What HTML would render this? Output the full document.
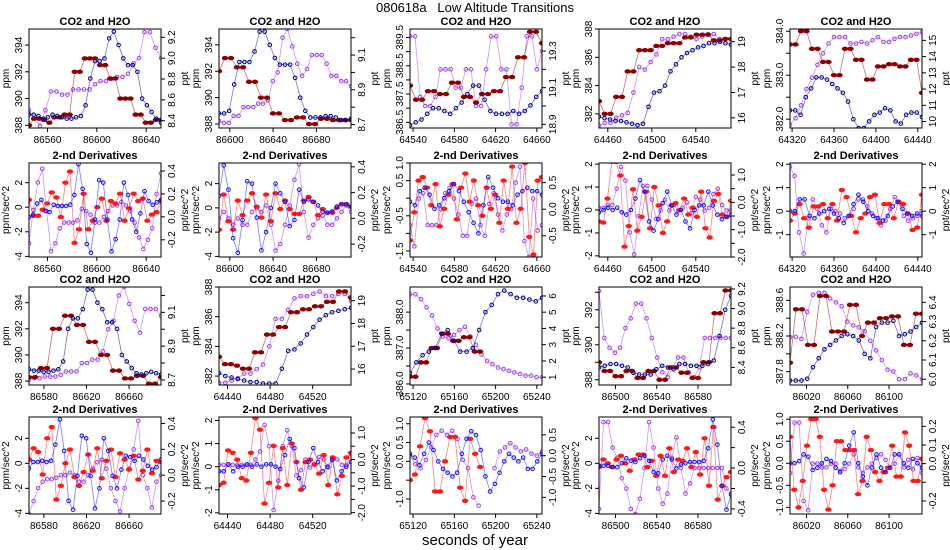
<!DOCTYPE html>
<html><head><meta charset="utf-8"><style>
body{margin:0;background:#fff;}
svg{display:block;font-family:"Liberation Sans",Arial,sans-serif;}
</style></head><body>
<svg id="chart" width="950" height="550" viewBox="0 0 950 550">
<text x="475" y="12" text-anchor="middle" font-size="13" style="white-space:pre">080618a   Low Altitude Transitions</text>
<text x="475" y="545" text-anchor="middle" font-size="15">seconds of year</text>
</svg>
<script>
// ---- chart data (per panel small arrays) ----
const p11_x=[86545,86652], p11_xt=[86560,86600,86640];
const p11_co2=[388.8,388.8,388.7,388.5,388.6,388.8,388.7,388.6,388.5,388.5,388.6,388.7,389.5,391.5,392.8,392.8,393,394.5,395,394,393,392.5,392.5,392,390,389.5,389,388.5,388.2];
const p11_step=[388,388.5,388.5,388.4,388.2,388.6,388.6,388.8,388.8,392,392,393,393,393,392.5,392.5,391.5,391.5,390,390,390,388.8,388.8,388.2,388.2,388.4,388.4];
const p11_h2o=[8.5,8.42,8.35,8.5,8.68,8.68,8.65,8.65,8.7,8.7,8.7,8.7,8.75,8.78,8.78,8.8,8.82,8.82,8.85,8.95,9.0,9.25,9.25,9.1,9.0];
const p12_x=[86590,86712], p12_xt=[86600,86640,86680];
const p12_co2=[388.8,388.8,389,391,392.7,392.7,392.7,393.5,395,395,394,393,392.5,392.5,392.5,391.5,390,389,388.5,388.5,388.5,388.6,388.6,388.5,388.3,388.3,388.4];
const p12_step=[392,393,393,392.3,392.3,391.2,391.2,390,390,388.8,388.8,388.3,388.3,388.5,388.5,388,388,388.4,388.4,388.3,388.3,388.3,388.3];
const p12_h2o=[8.72,8.71,8.71,8.75,8.75,8.8,8.8,8.8,8.82,8.82,8.84,8.95,9.0,9.2,9.25,9.15,9.05,8.98,9.02,9.1,9.1,9.1,9.05,8.98,8.98,8.95,8.95,8.92];
const p13_x=[64537,64665], p13_xt=[64540,64580,64620,64660];
const p13_co2=[386.4,386.5,386.6,386.8,387,387,386.9,386.8,387,387.2,387.5,387.8,387.8,387.3,386.9,386.8,386.8,386.8,386.9,386.8,386.9,387.1,387.4,387.6];
const p13_step=[387.8,387.3,387.3,387.6,387.6,387.5,387.5,387.9,387.9,387.4,387.4,387.2,387.5,387.5,387.6,387.6,388.1,388.1,388.8,388.8,389.7,389.7,389.3];
const p13_h2o=[19.38,19.38,19.05,19.0,19.0,19.05,19.2,19.2,19.2,19.1,19.1,19.2,19.2,19.0,19.0,19.2,19.38,19.38,19.2,19.2,18.9,18.9,19.1,19.38,19.38,19.2,19.3];
const p14_x=[64452,64572], p14_xt=[64460,64500,64540];
const p14_co2=[381.8,381.7,381.6,381.5,381.5,381.4,381.3,381.2,381.3,382.5,383.5,383.6,384,385,385.5,386,386.3,386.5,386.7,386.8,387,387,387.1,387,386.9];
const p14_step=[382.9,382,382,383.2,383.2,385,385,386.5,386.5,386.5,386.8,386.8,387,387,387,387.4,387.4,387.6,387.6,387.6,387.2,387.2,387.3,387.3];
const p14_h2o=[15.7,15.8,15.8,16.0,16.1,16.2,17.0,18.0,17.9,18.2,18.5,19.1,19.1,19.2,19.3,19.3,19.2,19.1,19.2,19.3,19.3,19.1,19.1,19.1];
const p15_x=[64318,64444], p15_xt=[64320,64360,64400,64440];
const p15_co2=[382.2,382.2,382.1,382.5,382.7,382.95,382.95,382.9,382.8,382.7,382.6,382.4,382,381.8,381.8,381.95,382.1,382.15,382.25,382.2,381.95,381.9,382.1,382.15,382.15,382.05];
const p15_step=[383.7,383.7,384,384,383.6,383.6,383.3,383.3,383,383,383.6,383.6,383.35,383.35,382.9,382.9,383.2,383.2,383.25,383.25,383.2,383.2,383.35,383.35,382.6];
const p15_h2o=[9.8,10.2,11,12,12.7,13.5,14.2,14.8,15.2,15.2,15.2,14.8,14.8,14.9,14.8,15.0,15.2,14.9,14.9,15.1,15.2,15.2,15.3,15.4,15.5];

const p21_red=[0.6,-0.7,-0.7,-0.2,0.3,1.2,0.8,-0.8,2,2.9,-2.9,-1.8,1.1,-1.8,-1.1,0,0.7,-1.1,0.5,0.3,1.1,-1.1,-0.1,1.1,0.5,0.7,-1.1,-0.6,-0.4,0.5];
const p21_blue=[-0.8,-0.6,0.3,0.6,-0.3,-0.4,0.2,0.1,0.1,0.1,0.2,1,3.5,1.5,-3,-3.7,-1,2.2,2,-1,-3.6,-2.6,-1,2,1,-1,-2,-0.5,1.3,0.5,0.2,0.4,0.6];
const p21_purple=[-0.23,0.06,0.3,0.42,0.05,-0.3,-0.23,-0.1,-0.05,-0.05,-0.05,-0.03,0.07,0.05,0.02,-0.05,-0.05,0.0,0.05,0.1,0.1,0.13,0.1,0.05,-0.05,-0.18,-0.28,-0.2,-0.1,0.2,0.38];
const p22_red=[-1.8,1.1,-1.1,-1.8,0.6,-0.6,0.6,1.2,0.1,-0.8,1.1,-1.1,1.2,-0.1,0.6,-0.1,-0.5,-0.5,0.6,0.9,0.5,-0.6,-0.1,-0.4,-0.4,0,0.3,0.3,0.1];
const p22_blue=[1,3.5,1.5,-2.5,-3.7,-1,2.2,2,-0.8,-3.5,-2,0,2,1.2,0.5,-1.5,-1,1.5,0.5,0.7,0.5,0.2,-0.3,-0.4,-0.3,0.1,0.3,0.3,0.1];
const p22_purple=[0.0,0.05,0.0,-0.05,0.0,-0.05,-0.05,0.05,0.08,0.05,0.1,-0.05,-0.25,-0.2,-0.05,0.1,0.3,0.42,0.05,-0.15,-0.05,0,0.02,-0.05,-0.05,0.0,0.05,0.1,0.05];
const p23_red=[-1.2,-0.4,0.5,0.6,0.3,-0.2,0.4,-0.8,-0.3,0.1,0.4,-0.6,0.3,0.7,-0.1,0.5,-0.2,-0.5,0.3,-0.3,0.1,-0.7,0.5,-0.3,0.9,-0.7,-0.3,1.0,-1.1,-1.6,0.5,0.6];
const p23_blue=[-0.1,-0.2,0.2,0.3,0.1,-0.3,-0.2,0,0.2,0.4,0.2,-0.1,-0.4,-0.7,-1.0,-0.2,0.6,0.3,0,-0.1,-0.1,-0.2,0.1,0.2,0.3,0.2,0.2,0.1];
const p23_purple=[-0.3,-0.7,0.2,0.3,-0.3,-0.3,-0.3,0.0,0.3,0.4,0.2,-0.1,-0.5,-0.5,0.1,0.2,-0.3,-0.5,0.1,0.3,-0.1,-0.4,-0.1,0.0,0.5,0.8,-0.6,-0.9,0.2,-0.4,-0.3];
const p24_red=[-0.5,-0.55,0.5,2.1,2.1,1.5,-1.6,-0.7,0.9,-0.9,-0.3,0.8,-0.8,1,0.2,-1,-0.5,0.2,0.3,0,0.5,-0.2,0.1,-0.3,0.8,-0.8,-1.2,0.4,0.7,-0.2,-0.3,0.4];
const p24_blue=[-0.1,0,0.1,0,0.1,-0.1,-0.2,0,0.5,1.3,0.8,-0.5,-0.9,-0.4,0.3,0.8,0.2,-0.2,0,-0.5,-0.8,0,0.2,0.2,0.8,0.2,-0.2,-0.4,-0.3,-0.2];
const p24_purple=[-0.2,-0.2,-0.1,-0.1,0.5,1.3,0.8,-1.1,-1.9,-0.5,0.6,0.6,0.1,-0.6,-0.3,0.1,-0.3,-0.1,-0.3,-0.2,0.0,-0.4,0.2,0.1,-0.3,-0.2,0.3,0.5,-0.1,-0.3,-0.3];
const p25_red=[-0.4,-0.1,0.3,-0.3,-0.7,0.2,0.2,0.3,-0.3,0.3,-0.4,0.9,0.6,-0.2,-0.9,-0.3,-0.1,0.6,0.7,-0.5,0.3,0.3,-0.3,0.4,0.3,-0.1,-0.8,-0.7,0.7];
const p25_blue=[0,0,0.5,0.5,-0.2,-0.3,-0.1,0,0.1,-0.1,-0.3,-0.5,-0.2,0.3,0.7,0.4,0,-0.2,-0.3,-0.4,-0.2,0.2,0.4,0.1,-0.1,-0.2,-0.1,-0.2];
const p25_purple=[1.9,1.5,-0.9,-1.8,-0.3,0.5,0.1,-0.6,-0.9,0.1,0,-0.1,-0.3,-0.2,0.1,0.5,0.5,0.2,-0.1,-0.3,-0.6,-0.4,0.1,0.6,0.4,-0.2,-0.4,-0.3,-0.2,0];

const p31_x=[86566,86690], p31_xt=[86580,86620,86660];
const p31_co2=[388.9,388.8,388.8,388.7,388.7,388.8,388.9,389.5,392,392.8,392.8,393.5,395,395,394,393.5,392.5,392.5,392,390,389.5,389,388.6,388.5,388.6,388.7,388.6,388.5];
const p31_step=[388.3,388.3,389,389,392,392,393,393,392.3,392.3,391,391,390,390,388.8,388.8,388.2,388.2,388.4,388.4,387.8,387.8,388.3];
const p31_h2o=[8.7,8.71,8.71,8.72,8.72,8.72,8.73,8.75,8.75,8.75,8.8,8.8,8.82,8.82,8.87,9.0,9.05,9.2,9.25,9.15,9.05,8.98,9.12,9.12,9.12,9.08];
const p32_x=[64432,64556], p32_xt=[64440,64480,64520];
const p32_co2=[382.2,382,381.9,381.8,381.7,381.6,381.6,381.5,381.5,381.5,382.5,383.7,383.8,384.2,384.8,385.3,385.8,386.1,386.3,386.4,386.5,386.6];
const p32_step=[383.3,382.8,382.8,382.7,382.5,382.5,383.6,383.6,384.8,384.8,385.3,385.3,386.3,386.3,386.5,386.5,386.7,386.7,387,387,387.7,387.7,387.3];
const p32_h2o=[15.4,15.4,15.5,15.6,15.8,15.8,16,16.2,17,18.2,18.2,18.6,19.1,19.2,19.2,19.3,19.4,19.2,19.2,19.3,19.3,19.0];
const p33_x=[65117,65245], p33_xt=[65120,65160,65200,65240];
const p33_co2=[386.3,386.6,386.8,386.9,387.0,387.4,387.5,387.2,386.9,386.9,387,387.5,388,388.2,388.5,388.6,388.5,388.4,388.4,388.35,388.3,388.4];
const p33_step=[386.2,386.2,386.6,386.6,387.0,387.0,387.4,387.4,387.2,387.2,387.3,387.3,386.9,386.9];
const p33_h2o=[6.1,6.1,5.8,5.3,4.8,4.0,3.5,3.4,3.6,3.9,4.1,3.5,3.0,2.4,2.0,1.8,1.6,1.5,1.4,1.3,1.2,1.1,1.1,1.0,1.0];
const p34_x=[86484,86612], p34_xt=[86500,86540,86580];
const p34_co2=[388.7,388.8,388.9,388.9,388.8,388.7,388.4,388.3,388.3,388.3,388.6,388.8,388.7,388.6,388.9,388.9,388.8,388.8,388.8,388.9,389.1,390.5,392,392.8];
const p34_step=[389,388.5,388.5,388.2,388.2,388.5,388.5,388.1,388.1,388.5,388.5,388,388,388.7,388.7,388.4,388.4,388.1,388.1,389,389,391.8,391.8,393.1,393.1];
const p34_h2o=[9.18,8.7,8.6,8.55,8.6,8.8,8.9,9.05,9.05,8.9,8.7,8.5,8.35,8.3,8.4,8.5,8.5,8.35,8.3,8.4,8.7,8.7,8.7,8.7,8.7,8.7];
const p35_x=[86004,86132], p35_xt=[86020,86060,86100];
const p35_co2=[387.7,387.7,387.7,387.72,387.85,387.95,388.05,388.1,388.15,388.2,388.22,388.2,388.15,388,387.95,388.3,388.35,388.35,388.37,388.2,388.22,388.25,388.3,388.35];
const p35_step=[387.9,388.5,388.5,388.1,388.1,388.65,388.65,388.25,388.25,388.25,388.55,388.55,388.2,388.35,388.35,388.4,388.4,388.42,388.42,388.1,388.1,388.45,388.45];
const p35_h2o=[6.22,6.22,6.21,6.35,6.44,6.45,6.45,6.42,6.4,6.38,6.3,6.28,6.27,6.25,6.2,6.15,6.1,6.05,6.04,6.0,6.0,6.03,6.02,6.0];

const p41_red=[0.3,1.2,0.9,-0.9,2,2.9,-2.9,-1.8,0,1.1,-1.1,-1.8,-0.7,0.7,-0.6,1.2,-1.2,0.2,1.1,-1.1,0.8,0.3,-0.5,0.6,-1.3,-0.6,1.1,-0.8,0.2,0.1];
const p41_blue=[-0.4,0.1,0.1,0.2,0.1,0.2,1.5,3.5,1,-3,-3.7,-1,2.2,2,-1,-3.6,-2,2,1,-1,-2,-0.5,0.6,0.5,0.2,0.6,0.3,-0.2,-0.5,-0.3,0.3];
const p41_purple=[-0.3,-0.2,-0.1,-0.05,-0.03,-0.03,-0.02,0.0,0.0,0.02,0.0,-0.05,-0.05,0.0,0.05,0.1,0.12,0.05,-0.1,-0.2,-0.28,-0.1,0.05,0.2,0.42,0.0,-0.1,-0.25,-0.05,0.0];
const p42_red=[-0.8,-0.7,0.7,0.6,0.3,-0.5,-0.6,0.6,2.1,1.6,-1.6,-0.7,0.9,-0.9,0.8,-0.8,1,0.2,-1,0.2,0.3,0.1,-0.3,0.5,-0.8,0.4,-1.2,-0.4,0.4,0.6];
const p42_blue=[-0.2,-0.2,0.1,-0.2,0,0,0.1,0,0.1,0,0.1,0.1,0,-0.1,0.5,1.2,0.8,-0.5,-0.9,0.2,0.8,0.2,-0.2,0,0.3,-0.6,-0.2,0,0.2];
const p42_purple=[-0.2,-0.2,-0.2,-0.2,-0.2,-0.2,-0.2,-0.2,0.0,0.3,1.3,0.5,-1.9,-0.8,0.5,1.1,0.5,-0.6,-0.4,0,-0.3,-0.2,0.1,0.0,-0.3,0.0,0.0,-0.2,-0.2,0.2];
const p43_red=[-0.5,-0.35,0.4,1.15,0.8,-0.8,-0.8,0,0.65,0.65,-0.7,-1.05,0.6,0.2,-0.15];
const p43_blue=[0.2,0.1,-0.1,0.2,0.5,0.3,0,-0.2,-0.3,-0.4,-0.3,0.2,0.6,0.8,0.7,0.3,-0.4,-0.8,-0.6,-0.3,0.0,0.2,0.1,0.0,0.1,-0.2,-0.2,0.0,0.2];
const p43_purple=[0.0,-0.2,-0.3,-0.1,0.2,0.5,0.6,0.5,0.6,0.4,-0.1,-0.3,-1.0,-1.2,null,null,-0.3,0.1,0.2,0.3,0.2,0.1,0.15,0.05,0.0,0.1];
const p44_red=[-0.3,0.3,0,-0.3,0.3,0.6,0,-0.6,0.3,0.7,0.7,-0.3,0.2,-1,0.6,-1,1.2,-0.7,0.3,0.2,1.2,-0.3,0.9,-0.9,2,-1.8,2.9,-2.9,-1.8,-1.1,-0.7];
const p44_blue=[-0.2,-0.2,-0.2,-0.3,-0.3,0,0.4,0.2,0.1,0.4,0.6,0.2,-0.7,-0.8,0.3,0.6,0.3,-0.4,-0.1,0,0.1,0.1,0.1,0.2,1.2,3.5,1.5,-1.8,-3.7,-2.5];
const p44_purple=[-0.4,0.45,0.45,0.2,0.1,-0.1,-0.2,-0.4,-0.45,-0.3,0.0,0.45,0.2,-0.2,-0.35,-0.25,0.1,0.3,0.0,-0.25,-0.15,0.0,0.0,0.0,0.0,0.0,0.0,0.0,-0.2,-0.25];
const p45_red=[0.6,-0.6,-1,-0.4,0.4,1,1,0.6,-0.6,-1.05,-0.5,0.5,0.5,0.3,0.3,0.3,-0.7,-0.4,0.6,0.3,-0.2,-0.4,-0.2,-0.1,0.4,-0.3,-0.3,0.7,0.4,-0.4,-0.4,0.1];
const p45_blue=[0,0,0.05,0.2,0.15,-0.15,-0.1,0,0.1,0.05,-0.1,-0.2,0,0.4,0.7,0,-0.3,-0.5,-0.1,0.2,-0.1,-0.2,-0.1,0.2,0.2,0,-0.1,0.1,0,-0.1];
const p45_purple=[-0.05,0.22,0.22,-0.2,-0.25,0,0,-0.02,-0.02,0,0,-0.04,-0.03,0.0,0.05,-0.02,-0.05,-0.02,0.0,0.03,0.05,0.02,-0.02,0.0,0.05,-0.02,0.02,-0.03,0.03,-0.05];

// ---- layout ----
const colX=[29,219,410,599,790], boxW=132;
const rowY=[29,163,287,417], rowH=[99,94,98,97];
const NS='http://www.w3.org/2000/svg';
const svg=document.getElementById('chart');
function mk(tag,attrs,parent){const e=document.createElementNS(NS,tag);for(const k in attrs)e.setAttribute(k,attrs[k]);(parent||svg).appendChild(e);return e;}
const C={navy:'#00008b',dred:'#8b0000',purple:'#a040f0',red:'#ff1a1a',blue:'#1010ff'};

function panel(r,c,cfg){
  const L=colX[c],T=rowY[r],W=boxW,H=rowH[r],R=L+W,B=T+H;
  const g=mk('g',{});
  
  
  const sx=v=>L+(v-cfg.x[0])/(cfg.x[1]-cfg.x[0])*W;
  const syL=v=>B-(v-cfg.yl[0])/(cfg.yl[1]-cfg.yl[0])*H;
  const syR=v=>B-(v-cfg.yr[0])/(cfg.yr[1]-cfg.yr[0])*H;
  const t=mk('text',{x:(L+R)/2,y:T-4,'text-anchor':'middle','font-size':11,'font-weight':'bold'},g);
  t.textContent=cfg.title;
  
  
  const clip='clip'+r+c;
  const cp=mk('clipPath',{id:clip},g);mk('rect',{x:L,y:T,width:W,height:H},cp);
  const pg=mk('g',{'clip-path':'url(#'+clip+')'},g);
  cfg.series.forEach(s=>{
    const sy=s.axis==='r'?syR:syL;
    const rng=s.xr||cfg.x;
    const n=s.v.length;
    const sg=mk('g',{},pg);
    
    
    let prev=null;
    s.v.forEach((v,i)=>{
      if(v===null){prev=null;return;}
      const x=sx(rng[0]+(rng[1]-rng[0])*i/(n-1)), y=sy(v);
      if(prev){mk('line',{x1:prev[0],y1:prev[1],x2:x,y2:y,stroke:s.col,'stroke-width':0.8,opacity:0.55},sg);}
      prev=[x,y];
      if(s.fill){mk('ellipse',{cx:x,cy:y,rx:3.2,ry:2.2,fill:s.col},sg);}
      else mk('circle',{cx:x,cy:y,r:1.8,fill:'none',stroke:s.col,'stroke-width':1},sg);
    });
  });
  const box=mk('rect',{x:L,y:T,width:W,height:H,fill:'none',stroke:'#000','stroke-width':1},g);
  
  
  const ax=mk('g',{'font-size':10,fill:'#000'},g);
  
  
  cfg.xt.forEach(v=>{const x=sx(v);mk('line',{x1:x,y1:B,x2:x,y2:B+4,stroke:'#000'},ax);
    const tx=mk('text',{x:x,y:B+15,'text-anchor':'middle'},ax);tx.textContent=v;});
  mk('line',{x1:sx(cfg.xt[0]),y1:B,x2:sx(cfg.xt[cfg.xt.length-1]),y2:B,stroke:'#000'},ax);
  cfg.ylt.forEach(([v,lab])=>{const y=syL(v);mk('line',{x1:L-4,y1:y,x2:L,y2:y,stroke:'#000'},ax);
    if(lab){const tx=mk('text',{x:L-7,y:y,'text-anchor':'middle',transform:`rotate(-90 ${L-7} ${y})`},ax);tx.textContent=lab;}});
  cfg.yrt.forEach(([v,lab])=>{const y=syR(v);mk('line',{x1:R,y1:y,x2:R+4,y2:y,stroke:'#000'},ax);
    if(lab){const tx=mk('text',{x:R+14,y:y,'text-anchor':'middle',transform:`rotate(-90 ${R+14} ${y})`},ax);tx.textContent=lab;}});
  const yl=mk('text',{x:L-20,y:(T+B)/2,'text-anchor':'middle','font-size':10,transform:`rotate(-90 ${L-20} ${(T+B)/2})`},ax);yl.textContent=cfg.lt;
  const yr=mk('text',{x:R+27,y:(T+B)/2,'text-anchor':'middle','font-size':10,transform:`rotate(-90 ${R+27} ${(T+B)/2})`},ax);yr.textContent=cfg.rt;
}
const T=(arr)=>arr.map(v=>Array.isArray(v)?v:[v,String(v)]);
function co2(r,c,x,xt,yl,ylt,yr,yrt,a,b,h,xrStep){
  panel(r,c,{title:'CO2 and H2O',x,xt,yl,ylt:T(ylt),yr,yrt:T(yrt),lt:'ppm',rt:'ppt',series:[
    {name:'h2o',v:h,col:C.purple,axis:'r'},
    {name:'co2-step',v:b,col:C.dred,fill:true,xr:xrStep},
    {name:'co2',v:a,col:C.navy}]});
}
function der(r,c,x,xt,yl,ylt,yr,yrt,red,blue,pur,xrRed){
  panel(r,c,{title:'2-nd Derivatives',x,xt,yl,ylt:T(ylt),yr,yrt:T(yrt),lt:'ppm/sec^2',rt:'ppt/sec^2',series:[
    {name:'h2o-deriv',v:pur,col:C.purple,axis:'r'},
    {name:'co2-step-deriv',v:red,col:C.red,fill:true,xr:xrRed},
    {name:'co2-deriv',v:blue,col:C.blue}]});
}
const c2t=[388,390,392,394];
co2(0,0,p11_x,p11_xt,[387.8,395.2],c2t,[8.33,9.28],[8.4,8.6,8.8,9.0,9.2].map(v=>[v,v.toFixed(1)]),p11_co2,p11_step,p11_h2o);
co2(0,1,p12_x,p12_xt,[387.7,395.2],c2t,[8.68,9.25],[[8.7,'8.7'],[8.8,''],[8.9,'8.9'],[9.0,''],[9.1,'9.1'],[9.2,'']],p12_co2,p12_step,p12_h2o);
co2(0,2,p13_x,p13_xt,[386.3,389.8],[[386.5,'386.5'],[387,''],[387.5,'387.5'],[388,''],[388.5,'388.5'],[389,''],[389.5,'389.5']],[18.88,19.42],[[18.9,'18.9'],[19.0,''],[19.1,'19.1'],[19.2,''],[19.3,'19.3']],p13_co2,p13_step,p13_h2o);
co2(0,3,p14_x,p14_xt,[381,388],[382,384,386,388],[15.6,19.5],[16,17,18,19],p14_co2,p14_step,p14_h2o);
co2(0,4,p15_x,p15_xt,[381.8,384.05],[[382,'382.0'],[382.5,''],[383,'383.0'],[383.5,''],[384,'384.0']],[9.6,15.7],[10,11,12,13,14,15],p15_co2,p15_step,p15_h2o);
der(1,0,p11_x,p11_xt,[-4.05,3.6],[-4,-2,0,2],[-0.35,0.47],[[-0.2,'-0.2'],[0,'0.0'],[0.2,'0.2'],[0.4,'0.4']],p21_red,p21_blue,p21_purple);
der(1,1,p12_x,p12_xt,[-4.05,3.7],[-4,-2,0,2],[-0.3,0.43],[[-0.2,'-0.2'],[0,'0.0'],[0.2,'0.2'],[0.4,'0.4']],p22_red,p22_blue,p22_purple);
der(1,2,p13_x,p13_xt,[-1.67,1.0],[[-1.5,'-1.5'],[-1,''],[-0.5,'-0.5'],[0,''],[0.5,'0.5'],[1,'1.0']],[-0.9,0.87],[[-0.5,'-0.5'],[0,'0.0'],[0.5,'0.5']],p23_red,p23_blue,p23_purple);
der(1,3,p14_x,p14_xt,[-2.05,2.05],[-2,-1,0,1,2],[-2.0,1.44],[[-2,'-2.0'],[-1.5,''],[-1,'-1.0'],[-0.5,''],[0,'0.0'],[0.5,''],[1,'1.0']],p24_red,p24_blue,p24_purple);
der(1,4,p15_x,p15_xt,[-1.95,2.05],[-1,0,1,2],[-1.95,2.05],[-1,0,1,2],p25_red,p25_blue,p25_purple);
co2(2,0,p31_x,p31_xt,[387.7,395.2],c2t,[8.67,9.25],[[8.7,'8.7'],[8.8,''],[8.9,'8.9'],[9.0,''],[9.1,'9.1'],[9.2,'']],p31_co2,p31_step,p31_h2o);
co2(2,1,p32_x,p32_xt,[381.4,388],[382,384,386,388],[15.3,19.6],[16,17,18,19],p32_co2,p32_step,p32_h2o);
co2(2,2,p33_x,p33_xt,[385.97,388.7],[[386,'386.0'],[386.5,''],[387,'387.0'],[387.5,''],[388,'388.0']],[0.52,6.55],[1,2,3,4,5,6],p33_co2,p33_step,p33_h2o,[65117,65185]);
co2(2,3,p34_x,p34_xt,[387.7,393.3],[[388,'388'],[389,''],[390,'390'],[391,''],[392,'392'],[393,'']],[8.22,9.22],[8.4,8.6,8.8,9.0,9.2].map(v=>[v,v.toFixed(1)]),p34_co2,p34_step,p34_h2o);
co2(2,4,p35_x,p35_xt,[387.65,388.75],[[387.8,'387.8'],[388,''],[388.2,'388.2'],[388.4,''],[388.6,'388.6']],[5.97,6.48],[6.0,6.1,6.2,6.3,6.4].map(v=>[v,v.toFixed(1)]),p35_co2,p35_step,p35_h2o);
der(3,0,p31_x,p31_xt,[-4.05,3.7],[-4,-2,0,2],[-0.3,0.45],[[-0.2,'-0.2'],[0,'0.0'],[0.2,'0.2'],[0.4,'0.4']],p41_red,p41_blue,p41_purple);
der(3,1,p32_x,p32_xt,[-2.05,2.15],[-2,-1,0,1,2],[-2.05,1.6],[[-2,'-2.0'],[-1.5,''],[-1,'-1.0'],[-0.5,''],[0,'0.0'],[0.5,''],[1,'1.0']],p42_red,p42_blue,p42_purple);
der(3,2,p33_x,p33_xt,[-1.4,1.18],[[-1,'-1.0'],[-0.5,''],[0,'0.0'],[0.5,'0.5'],[1,'1.0']],[-1.4,0.93],[[-1,'-1.0'],[-0.5,'-0.5'],[0,'0.0'],[0.5,'0.5']],p43_red,p43_blue,p43_purple,[65117,65185]);
der(3,3,p34_x,p34_xt,[-4.05,3.7],[-4,-2,0,2],[-0.45,0.5],[[-0.4,'-0.4'],[-0.2,''],[0,'0.0'],[0.2,''],[0.4,'0.4']],p44_red,p44_blue,p44_purple);
der(3,4,p35_x,p35_xt,[-1.15,1.05],[[-1,'-1.0'],[-0.5,'-0.5'],[0,'0.0'],[0.5,'0.5'],[1,'1.0']],[-0.27,0.25],[[-0.2,'-0.2'],[-0.1,''],[0,'0.0'],[0.1,'0.1'],[0.2,'0.2']],p45_red,p45_blue,p45_purple);
</script>
</body></html>
